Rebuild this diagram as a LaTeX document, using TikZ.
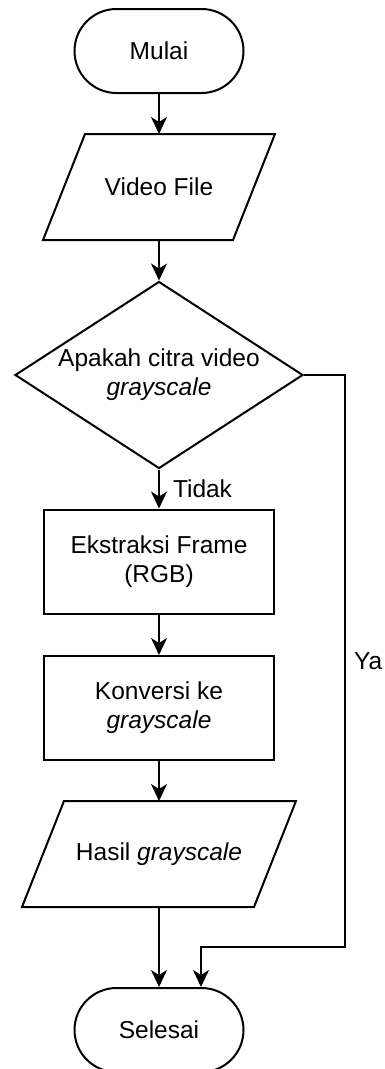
\documentclass[tikz,border=0pt]{standalone}
\usepackage{fontspec}
\setmainfont{Liberation Sans}
\usetikzlibrary{arrows.meta,shapes.geometric}
\newcommand\ioshape[1]{\draw[ioline] ([xshift=42pt]#1.north west) -- (#1.north east) -- ([xshift=-42pt]#1.south east) -- (#1.south west) -- cycle;}
\begin{document}
\begin{tikzpicture}[x=1pt,y=-1pt,
  every node/.style={font=\fontsize{24.5}{29}\selectfont, line width=2pt},
  term/.style={draw, rectangle, rounded corners=42pt, minimum width=169pt, minimum height=84pt, inner sep=0pt},
  proc/.style={draw, rectangle, minimum width=230pt, minimum height=104pt, align=center, inner sep=0pt},
  io/.style={rectangle, minimum height=104pt, inner sep=0pt},
  ioline/.style={line width=2pt, line join=miter},
  decision/.style={draw, diamond, minimum width=288pt, minimum height=187pt, inner sep=0pt},
  flow/.style={line width=2pt, -{Stealth[length=17pt,width=16pt,inset=5pt]}},
  lbl/.style={inner sep=0pt, anchor=west}
]
\useasboundingbox (0,0) rectangle (385,1069);
\node[term] (start) at (159,51) {Mulai};
\node[io, minimum width=230pt] (vf) at (159,187) {Video File};
\ioshape{vf}
\node[decision] (dec) at (159,375) {\makebox[0pt]{\begin{tabular}{@{}c@{}}Apakah citra video\\\textit{grayscale}\end{tabular}}};
\node[proc] (ext) at (159,561.5) {Ekstraksi Frame\\(RGB)};
\node[proc] (konv) at (159,708) {Konversi ke\\\textit{grayscale}};
\node[io, minimum width=272pt] (hasil) at (159,854) {Hasil \textit{grayscale}};
\ioshape{hasil}
\node[term] (end) at (159,1030) {Selesai};
\coordinate (yac) at (345,947);

\draw[flow] (start) -- (vf);
\draw[flow] (vf) -- (dec);
\draw[flow] (dec) -- node[lbl, xshift=13pt] {Tidak} (ext);
\draw[flow] (ext) -- (konv);
\draw[flow] (konv) -- (hasil);
\draw[flow] (hasil) -- (end);
\draw[flow] (dec.east) -| node[lbl, pos=0.75, xshift=8pt] {Ya} (yac) -| ([xshift=42pt]end.north);
\end{tikzpicture}
\end{document}
